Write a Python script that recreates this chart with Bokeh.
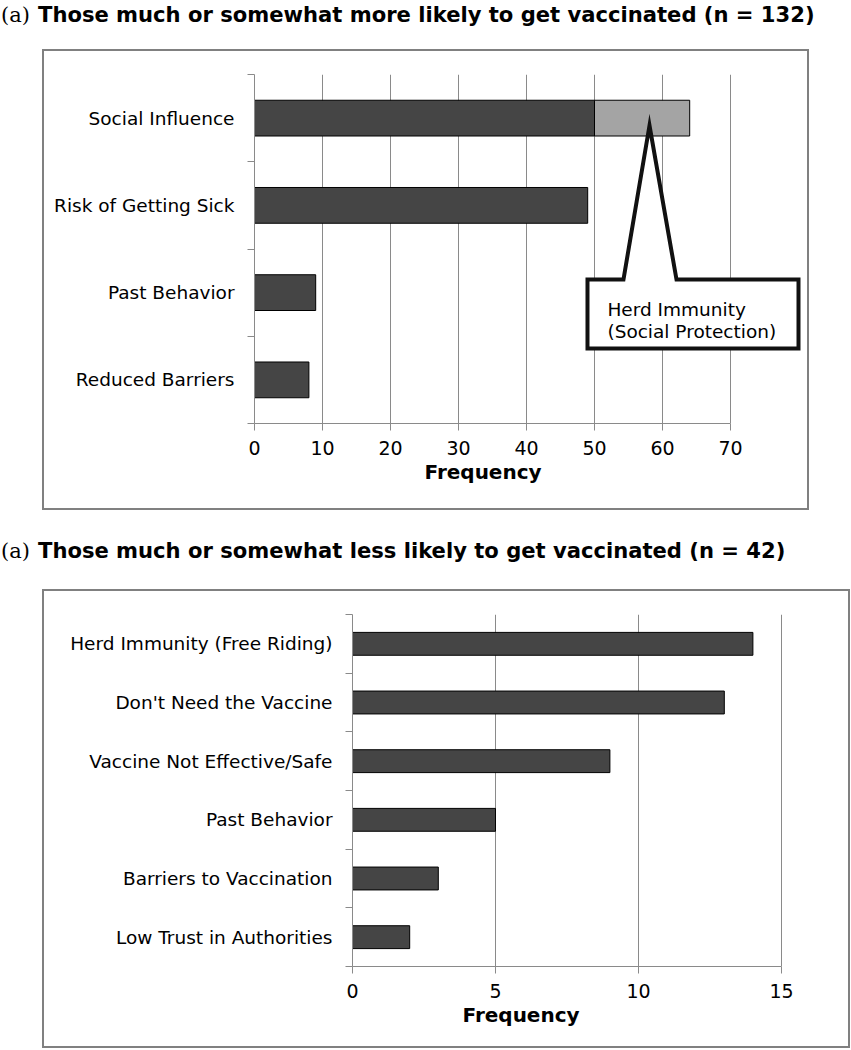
from bokeh.plotting import figure
from bokeh.layouts import column
from bokeh.models import Range1d, FixedTicker, Title, Div
from bokeh.core.properties import value
from bokeh.embed import file_html
from bokeh.resources import INLINE

# ---------------- data ----------------
title_prefix = "(a)"
title_top = "Those much or somewhat more likely to get vaccinated (n = 132)"
title_bottom = "Those much or somewhat less likely to get vaccinated (n = 42)"

top_categories = ["Reduced Barriers", "Past Behavior", "Risk of Getting Sick", "Social Influence"]
top_values = [8, 9, 49, 50]
top_extra_category = "Social Influence"
top_extra_value = 14  # Herd Immunity (Social Protection) share, stacked
top_ticks = [0, 10, 20, 30, 40, 50, 60, 70]

bottom_categories = ["Low Trust in Authorities", "Barriers to Vaccination", "Past Behavior",
                     "Vaccine Not Effective/Safe", "Don't Need the Vaccine",
                     "Herd Immunity (Free Riding)"]
bottom_values = [2, 3, 5, 9, 13, 14]
bottom_ticks = [0, 5, 10, 15]

callout_lines = ["Herd Immunity", "(Social Protection)"]
x_label = "Frequency"

# ---------------- style ----------------
FONT = "DejaVu Sans"
DARK = "#454545"
LIGHT = "#a4a4a4"
GRID = "#8a8a8a"
BOX = "#808080"
PAGE_W = 851


def title_div(height, pad_top, text):
    html = (
        f'<div style="white-space:nowrap;line-height:26px;font-size:21px;'
        f'padding-top:{pad_top}px;color:black;">'
        f'<span style="display:inline-block;width:38px;padding-left:1px;'
        f'font-family:\'DejaVu Serif\';font-size:21px;">{title_prefix}</span>'
        f'<span style="font-family:\'DejaVu Sans\';font-weight:bold;font-size:21.1px;">'
        f'{text}</span></div>'
    )
    return Div(text=html, width=PAGE_W, height=height, margin=(0, 0, 0, 0))


def panel(cats, vals, ticks, width, height, b_left, b_right, b_top, b_bottom, x_end,
          bar_h, label_offset):
    n = len(cats)
    pos = list(range(1, n + 1))
    p = figure(width=width, height=height, toolbar_location=None, output_backend="svg",
               x_range=Range1d(0, x_end), y_range=Range1d(0.5, n + 0.5),
               min_border_left=b_left, min_border_right=b_right,
               min_border_top=b_top, min_border_bottom=b_bottom,
               outline_line_color=None, background_fill_color="white",
               border_fill_color="white")
    p.hbar(y=pos, left=0, right=vals, height=bar_h, fill_color=DARK,
           line_color="black", line_width=1)

    # x axis
    xa = p.xaxis[0]
    xa.ticker = FixedTicker(ticks=ticks)
    xa.bounds = (ticks[0], ticks[-1])
    xa.axis_line_color = GRID
    xa.major_tick_line_color = GRID
    xa.major_tick_out = 7
    xa.major_tick_in = 0
    xa.minor_tick_line_color = None
    xa.major_label_text_font = FONT
    xa.major_label_text_font_size = "19px"
    xa.major_label_text_color = "black"
    xa.major_label_standoff = 10

    # y axis: labels at category centres, separator ticks between categories
    ya = p.yaxis[0]
    ya.ticker = FixedTicker(ticks=pos, minor_ticks=[k + 0.5 for k in range(0, n + 1)])
    ya.major_label_overrides = {k: c for k, c in zip(pos, cats)}
    ya.axis_line_color = GRID
    ya.major_tick_line_color = None
    ya.major_tick_out = 0
    ya.major_tick_in = 0
    ya.minor_tick_line_color = GRID
    ya.minor_tick_out = 7
    ya.minor_tick_in = 0
    ya.major_label_text_font = FONT
    ya.major_label_text_font_size = "18.5px"
    ya.major_label_text_color = "black"
    ya.major_label_standoff = 13

    p.xgrid.ticker = FixedTicker(ticks=ticks)
    p.xgrid.bounds = (ticks[0], ticks[-1])
    p.xgrid.grid_line_color = GRID
    p.ygrid.grid_line_color = None

    p.add_layout(Title(text=x_label, align="left", offset=label_offset,
                       text_font=FONT, text_font_style="bold", text_font_size="20px",
                       text_color="black", standoff=0), "below")
    p.styles = {"outline": f"2px solid {BOX}"}
    p.margin = (0, 0, 0, 44)
    return p, pos


# ---- top panel ----
t1 = title_div(51, 2, title_top)
p1, pos1 = panel(top_categories, top_values, top_ticks, width=763, height=457,
                 b_left=210, b_right=2, b_top=23, b_bottom=85, x_end=551 / 6.8,
                 bar_h=0.41, label_offset=170)
yi = pos1[top_categories.index(top_extra_category)]
base = top_values[top_categories.index(top_extra_category)]
p1.hbar(y=[yi], left=[base], right=[base + top_extra_value], height=0.41,
        fill_color=LIGHT, line_color="black", line_width=1)

# callout (annotation shape; layout constants in data space)
cx0, cx1 = 48.97, 80.0
cy0, cy1 = 1.36, 2.15
b0, b1 = 54.26, 62.06
tip_x, tip_y = 58.09, 3.915
p1.patch(x=[cx0, b0, tip_x, b1, cx1, cx1, cx0],
         y=[cy1, cy1, tip_y, cy1, cy1, cy0, cy0],
         fill_color="white", line_color="#111111", line_width=4, line_join="miter")
p1.text(x=[51.9, 51.9], y=[1.807, 1.554], text=callout_lines,
        text_font=value(FONT), text_font_size="18.5px", text_baseline="alphabetic",
        text_color="black")

# ---- bottom panel ----
t2 = title_div(83, 30, title_bottom)
p2, pos2 = panel(bottom_categories, bottom_values, bottom_ticks, width=804, height=455,
                 b_left=308, b_right=21, b_top=23, b_bottom=80, x_end=475 / 28.6,
                 bar_h=0.39, label_offset=110)

layout = column(t1, column(p1), t2, column(p2))
open("out.html", "w").write(file_html(layout, INLINE))
